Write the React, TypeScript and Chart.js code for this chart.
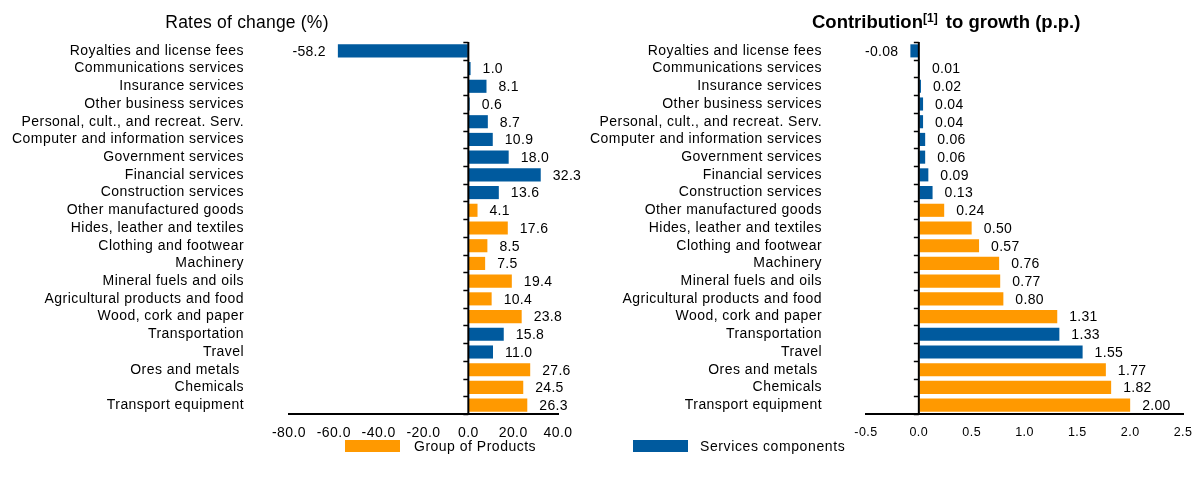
import React, { useEffect, useRef } from "react";
import { Chart, registerables } from "chart.js";
Chart.register(...registerables);

const categories = [
  "Royalties and license fees",
  "Communications services",
  "Insurance services",
  "Other business services",
  "Personal, cult., and recreat. Serv.",
  "Computer and information services",
  "Government services",
  "Financial services",
  "Construction services",
  "Other manufactured goods",
  "Hides, leather and textiles",
  "Clothing and footwear",
  "Machinery",
  "Mineral fuels and oils",
  "Agricultural products and food",
  "Wood, cork and paper",
  "Transportation",
  "Travel",
  "Ores and metals ",
  "Chemicals",
  "Transport equipment",
];

// "S" = Services components, "P" = Group of Products
const componentType = ["S", "S", "S", "S", "S", "S", "S", "S", "S", "P", "P", "P", "P", "P", "P", "P", "S", "S", "P", "P", "P"];

const ratesOfChange = [-58.2, 1.0, 8.1, 0.6, 8.7, 10.9, 18.0, 32.3, 13.6, 4.1, 17.6, 8.5, 7.5, 19.4, 10.4, 23.8, 15.8, 11.0, 27.6, 24.5, 26.3];
const contributions = [-0.08, 0.01, 0.02, 0.04, 0.04, 0.06, 0.06, 0.09, 0.13, 0.24, 0.5, 0.57, 0.76, 0.77, 0.8, 1.31, 1.33, 1.55, 1.77, 1.82, 2.0];

const rateTicks = [-80, -60, -40, -20, 0, 20, 40];
const contribTicks = [-0.5, 0, 0.5, 1.0, 1.5, 2.0, 2.5];

const legendLabels = ["Group of Products", "Services components"];

const ORANGE = "#FF9900";
const BLUE = "#005A9E";
const FONT = "'Liberation Sans', Arial, sans-serif";

const barColors = componentType.map((t) => (t === "P" ? ORANGE : BLUE));

function makePlugin(decimals: number, spacing: string) {
  return {
    id: "zeroAxisLabels",
    beforeDraw(chart: any) {
      (chart.ctx as any).letterSpacing = spacing;
    },
    afterDatasetsDraw(chart: any) {
      const { ctx, chartArea, scales } = chart;
      const x = scales.x;
      const x0 = x.getPixelForValue(0);
      ctx.save();
      (ctx as any).letterSpacing = "0.3px";
      ctx.strokeStyle = "#000";
      ctx.lineWidth = 2;
      ctx.beginPath();
      ctx.moveTo(x0, chartArea.top);
      ctx.lineTo(x0, chartArea.bottom);
      ctx.stroke();
      const n = categories.length;
      const band = (chartArea.bottom - chartArea.top) / n;
      ctx.lineWidth = 1.5;
      for (let i = 0; i <= n; i++) {
        const yy = Math.round(chartArea.top + i * band) + 0.5;
        ctx.beginPath();
        ctx.moveTo(x0 - 5, yy);
        ctx.lineTo(x0, yy);
        ctx.stroke();
      }
      const meta = chart.getDatasetMeta(0);
      const values = chart.data.datasets[0].data as number[];
      ctx.fillStyle = "#000";
      ctx.font = `14px ${FONT}`;
      ctx.textBaseline = "middle";
      meta.data.forEach((el: any, i: number) => {
        const v = values[i];
        const txt = v.toFixed(decimals);
        if (v < 0) {
          ctx.textAlign = "right";
          ctx.fillText(txt, el.x - 12, el.y + 1);
        } else {
          ctx.textAlign = "left";
          ctx.fillText(txt, el.x + 12, el.y + 1);
        }
      });
      ctx.restore();
    },
    afterDraw(chart: any) {
      (chart.ctx as any).letterSpacing = "0px";
    },
  };
}

function makeConfig(values: number[], ticks: number[], decimals: number, tickDecimals: number, yWidth: number, yPad: number, rightPad: number, tickFont: any) {
  return {
    type: "bar" as const,
    data: {
      labels: categories,
      datasets: [
        {
          data: values,
          backgroundColor: barColors,
          borderWidth: 0,
          barPercentage: 0.74,
          categoryPercentage: 1,
        },
      ],
    },
    options: {
      indexAxis: "y" as const,
      animation: false as const,
      responsive: false,
      maintainAspectRatio: false,
      layout: { padding: { top: 42, bottom: 0, left: 0, right: rightPad } },
      plugins: { legend: { display: false }, tooltip: { enabled: false }, title: { display: false } },
      scales: {
        x: {
          type: "linear" as const,
          min: ticks[0],
          max: ticks[ticks.length - 1],
          afterBuildTicks: (s: any) => {
            s.ticks = ticks.map((v) => ({ value: v }));
          },
          afterFit: (s: any) => {
            s.height = 482 - 414;
            s.paddingLeft = 0;
            s.paddingRight = 0;
          },
          grid: { display: true, drawOnChartArea: false, drawTicks: false },
          border: { display: true, color: "#000", width: 2 },
          ticks: {
            color: "#000",
            font: tickFont,
            padding: 11,
            maxRotation: 0,
            autoSkip: false,
            callback: (v: any) => Number(v).toFixed(tickDecimals),
          },
        },
        y: {
          type: "category" as const,
          afterFit: (s: any) => {
            s.width = yWidth;
            s.paddingTop = 0;
            s.paddingBottom = 0;
          },
          grid: { display: false, drawTicks: false },
          border: { display: false },
          ticks: {
            color: "#000",
            font: { family: FONT, size: 14 },
            padding: yPad,
            autoSkip: false,
          },
        },
      },
    },
    plugins: [makePlugin(decimals, "0.45px")],
  };
}

function BarChart(props: { width: number; values: number[]; ticks: number[]; decimals: number; tickDecimals: number; yWidth: number; yPad: number; rightPad: number; tickFont: any }) {
  const ref = useRef<HTMLCanvasElement | null>(null);
  useEffect(() => {
    if (!ref.current) return;
    const chart = new Chart(
      ref.current,
      makeConfig(props.values, props.ticks, props.decimals, props.tickDecimals, props.yWidth, props.yPad, props.rightPad, props.tickFont) as any
    );
    return () => chart.destroy();
  }, []);
  return <canvas ref={ref} width={props.width} height={482} style={{ display: "block", width: props.width, height: 482 }} />;
}

export default function App() {
  return (
    <div style={{ position: "absolute", left: 0, top: 0, width: 1192, height: 482, background: "#fff", fontFamily: FONT, overflow: "hidden" }}>
      <div style={{ position: "absolute", left: 0, top: 0 }}>
        <BarChart width={596} values={ratesOfChange} ticks={rateTicks} decimals={1} tickDecimals={1} yWidth={289} yPad={45} rightPad={38} tickFont={{ family: FONT, size: 14 }} />
      </div>
      <div style={{ position: "absolute", left: 584, top: 0 }}>
        <BarChart width={608} values={contributions} ticks={contribTicks} decimals={2} tickDecimals={1} yWidth={282} yPad={44} rightPad={9} tickFont={{ family: FONT, size: 12.5 }} />
      </div>
      <div style={{ position: "absolute", left: 137, width: 220, top: 11, textAlign: "center", fontSize: 17.5, lineHeight: "22px", color: "#000", letterSpacing: "0.2px" }}>
        Rates of change (%)
      </div>
      <div style={{ position: "absolute", left: 812, top: 11, fontSize: 18.5, fontWeight: "bold", lineHeight: "22px", color: "#000", whiteSpace: "nowrap" }}>
        Contribution<sup style={{ fontSize: 12, verticalAlign: "top", lineHeight: "14px", fontWeight: "bold", marginRight: 3 }}>[1]</sup> to growth (p.p.)
      </div>
      <div style={{ position: "absolute", left: 345, top: 440, width: 55, height: 12, background: ORANGE }} />
      <div style={{ position: "absolute", left: 414, top: 437, fontSize: 14, lineHeight: "18px", color: "#000", whiteSpace: "nowrap", letterSpacing: "0.5px" }}>{legendLabels[0]}</div>
      <div style={{ position: "absolute", left: 633, top: 440, width: 55, height: 12, background: BLUE }} />
      <div style={{ position: "absolute", left: 700, top: 437, fontSize: 14, lineHeight: "18px", color: "#000", whiteSpace: "nowrap", letterSpacing: "0.6px" }}>{legendLabels[1]}</div>
    </div>
  );
}
